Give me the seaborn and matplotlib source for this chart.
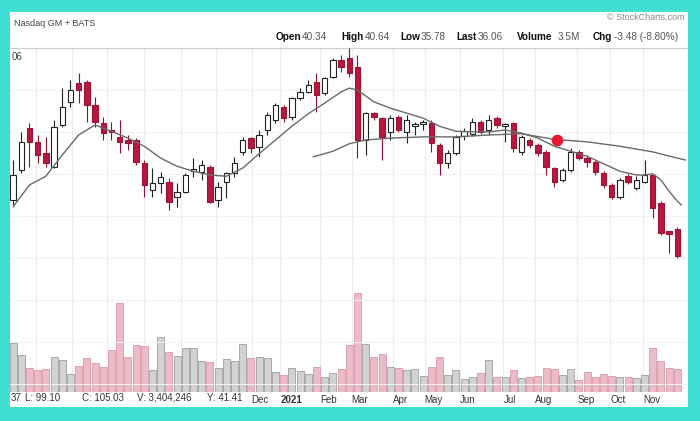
import numpy as np
import matplotlib
matplotlib.use("Agg")
import matplotlib.pyplot as plt
from matplotlib.patches import Rectangle
import seaborn as sns

# weekly candles (index 0 = first week shown)
opens = [45.0, 49.8, 56.5, 54.3, 52.5, 50.3, 57.0, 60.7, 63.7, 63.9,
         60.2, 57.3, 56.2, 55.1, 54.6, 54.6, 50.9, 46.6, 47.7, 47.9,
         45.5, 46.3, 49.6, 49.5, 50.3, 45.0, 47.9, 49.3, 52.7, 54.9,
         53.5, 56.2, 57.8, 59.9, 58.3, 61.3, 62.3, 63.9, 62.1, 64.7,
         67.4, 67.7, 66.3, 54.6, 58.9, 58.1, 55.9, 58.3, 55.9, 56.8,
         57.2, 57.3, 53.8, 50.9, 52.5, 55.2, 55.6, 57.5, 56.2, 58.1,
         56.8, 57.3, 52.7, 54.6, 53.8, 52.7, 50.1, 48.2, 49.8, 52.7,
         51.7, 51.1, 49.3, 47.4, 45.5, 48.8, 46.9, 47.9, 49.0, 44.5,
         40.0, 40.34]
highs = [51.4, 55.9, 57.3, 55.4, 55.1, 57.8, 62.9, 64.2, 65.3, 64.2,
         61.5, 58.3, 57.5, 57.8, 55.4, 54.9, 51.4, 50.1, 49.5, 48.5,
         47.7, 49.3, 51.7, 51.4, 50.6, 47.9, 49.5, 51.9, 55.1, 55.1,
         56.2, 59.1, 60.5, 60.2, 61.5, 62.9, 64.2, 65.3, 64.7, 67.7,
         68.2, 69.3, 68.2, 59.1, 59.1, 58.3, 58.6, 58.6, 58.6, 57.5,
         57.8, 57.8, 54.1, 53.0, 55.4, 56.5, 58.1, 57.8, 58.6, 58.4,
         57.3, 57.5, 55.4, 54.9, 54.1, 53.0, 50.3, 50.1, 53.3, 53.0,
         52.0, 51.4, 49.6, 47.7, 48.5, 49.2, 48.8, 51.4, 49.0, 44.8,
         40.1, 40.64]
lows = [44.2, 49.3, 50.3, 50.9, 50.3, 50.1, 56.7, 59.9, 60.5, 57.5,
        56.7, 54.6, 54.6, 52.5, 53.0, 50.6, 45.5, 45.5, 46.1, 43.4,
        43.9, 46.1, 48.7, 48.2, 44.5, 43.9, 45.3, 48.7, 52.2, 52.5,
        51.9, 55.4, 57.3, 57.5, 57.8, 61.0, 62.1, 59.1, 61.8, 64.5,
        65.5, 64.7, 51.7, 52.2, 57.8, 51.4, 54.6, 55.9, 54.1, 55.4,
        56.2, 52.7, 49.0, 50.1, 52.2, 54.6, 55.2, 55.6, 55.4, 56.5,
        54.3, 52.7, 52.2, 53.3, 52.0, 49.0, 47.1, 47.9, 49.5, 51.4,
        50.3, 49.0, 46.9, 45.2, 45.2, 47.6, 46.6, 47.7, 42.1, 39.4,
        36.5, 35.78]
closes = [49.0, 54.3, 54.3, 52.2, 50.9, 56.7, 59.9, 62.6, 62.6, 60.2,
          57.5, 55.7, 55.9, 54.3, 54.1, 51.1, 47.4, 47.7, 48.7, 44.7,
          46.3, 49.0, 50.0, 50.6, 44.7, 47.1, 49.3, 50.9, 54.6, 53.3,
          55.4, 58.6, 60.2, 58.1, 61.3, 62.3, 63.4, 61.8, 64.5, 67.4,
          66.3, 65.3, 54.6, 58.9, 58.3, 55.1, 58.1, 56.2, 57.8, 57.2,
          57.5, 54.1, 50.9, 52.5, 55.1, 56.0, 57.5, 55.9, 57.8, 57.0,
          57.2, 53.3, 55.1, 53.8, 52.5, 50.3, 47.9, 49.8, 52.7, 51.7,
          51.1, 49.5, 47.4, 45.5, 48.2, 47.9, 48.2, 49.0, 43.7, 39.7,
          39.54, 36.06]
# weekly volume, millions
volumes = [7.4, 5.6, 3.6, 3.3, 3.5, 5.3, 4.8, 2.7, 3.9, 5.1,
           4.4, 3.8, 6.3, 13.4, 5.3, 7.1, 6.9, 3.3, 8.3, 6.0,
           5.4, 6.6, 6.6, 4.7, 4.5, 3.6, 5.0, 4.7, 7.2, 5.1,
           5.3, 5.1, 3.0, 2.6, 3.6, 3.2, 2.7, 3.8, 2.3, 2.9,
           3.5, 7.1, 14.9, 7.2, 5.3, 5.7, 3.8, 3.6, 3.3, 3.5,
           2.4, 3.8, 5.3, 2.6, 3.3, 2.0, 2.3, 2.9, 4.8, 2.3,
           2.3, 3.3, 2.1, 2.3, 2.4, 3.6, 3.5, 2.6, 3.5, 1.8,
           3.0, 2.3, 2.7, 2.4, 2.3, 2.3, 2.1, 2.6, 6.6, 4.7,
           3.6, 3.5]

# moving averages (week index, price)
ma_short_x = [0, 2, 4, 6, 8, 10, 12, 14, 16, 18, 20, 22, 24, 26, 28, 30, 32, 34, 36, 38,
              40, 41, 42, 44, 46, 48, 50, 52, 54, 56, 58, 60, 62, 64, 66, 68, 70, 72, 74, 76,
              77, 78, 79, 80, 81, 81.5]
ma_short_y = [43.9, 47.4, 48.8, 52.2, 55.4, 57.0, 56.0, 54.9, 53.6, 51.7, 50.4, 49.6, 49.0, 48.8,
              50.1, 52.4, 54.6, 56.8, 58.8, 60.5, 62.3, 62.9, 62.6, 60.7, 59.7, 58.9, 58.1, 56.8,
              56.0, 55.9, 55.9, 56.2, 55.7, 54.9, 53.6, 52.8, 52.0, 50.8, 49.6, 49.0, 49.0, 49.2,
              48.2, 46.4, 44.8, 44.2]
ma_long_x = [36.6, 39, 41, 43, 46, 50, 54, 58, 62, 66, 70, 74, 78, 81, 82]
ma_long_y = [51.9, 52.8, 54.0, 54.6, 54.9, 55.1, 55.1, 55.4, 55.6, 54.7, 54.3, 53.6, 52.7, 51.7, 51.4]
signal_x, signal_y = 66.3, 54.6

month_labels = ["Dec", "2021", "Feb", "Mar", "Apr", "May", "Jun", "Jul", "Aug", "Sep", "Oct", "Nov"]
month_pos = [29.1, 32.6, 37.4, 41.3, 46.3, 50.2, 54.5, 59.8, 63.7, 68.8, 72.8, 76.8]
early_month_pos = [2.8, 7.2, 11.5, 16.0, 20.5, 24.8]
grid_prices = [15.6, 22.3, 29.0, 35.7, 42.4, 49.2, 55.9, 62.6]

readout = ["37", "L: 99.10", "C: 105.03", "V: 3,404,246", "Y: 41.41"]
readout_px = [11, 25, 82, 137, 207]
head_labels = ["Open", "High", "Low", "Last", "Volume", "Chg"]
head_values = ["40.34", "40.64", "35.78", "36.06", "3.5M", "-3.48 (-8.80%)"]
head_label_px = [276, 341, 400, 456, 517, 593]
head_value_px = [302, 365, 421, 478, 558, 614]

sns.set_theme(style="white")
plt.rcParams["font.family"] = ["Liberation Sans", "DejaVu Sans"]

W, H = 700, 421
fig = plt.figure(figsize=(7, 4.21), dpi=100, facecolor="white")
ax = fig.add_axes([10 / W, 1 - 392 / H, 678 / W, 344 / H])
axp = ax.twinx()

idx = np.arange(len(closes))
down = np.array(closes) < np.array(opens)

# volume overlay
vol_fill = np.where(down, "#ebbcc7", "#d2d2d2")
vol_edge = np.where(down, "#dca2b1", "#a9a9a9")
ax.bar(idx, volumes, width=0.86, color=vol_fill, edgecolor=vol_edge, linewidth=0.7, zorder=2)
ax.set_ylim(0, 51.6)
ax.set_xlim(-0.37, 82.3)
ax.set_yticks([])
ax.set_xticks(month_pos)
ax.set_xticklabels(month_labels, ha="left", fontsize=7, color="#333333")
ax.get_xticklabels()[1].set_fontweight("bold")
ax.set_xticks(early_month_pos, minor=True)
ax.tick_params(axis="x", which="both", length=0, pad=2)
ax.grid(axis="x", which="both", color="#ececec", linewidth=0.8)
ax.set_axisbelow(True)

# candles
o = np.array(opens)
c = np.array(closes)
body_lo = np.minimum(o, c)
body_h = np.maximum(np.abs(c - o), 0.12)
wick_col = np.where(down, "#8c1232", "#222222")
axp.vlines(idx, lows, highs, colors=wick_col, linewidth=0.8, zorder=3)
axp.bar(idx, body_h, bottom=body_lo, width=0.66,
        color=np.where(down, "#b8173f", "white"),
        edgecolor=np.where(down, "#9c1436", "#222222"), linewidth=0.8, zorder=4)

sns.lineplot(x=ma_short_x, y=ma_short_y, ax=axp, color="#6a6a6a", linewidth=1.0, zorder=5)
sns.lineplot(x=ma_long_x, y=ma_long_y, ax=axp, color="#6a6a6a", linewidth=1.0, zorder=5)
axp.scatter([signal_x], [signal_y], s=70, color="#e8192c", zorder=6, linewidths=0)

axp.set_ylim(14.28, 69.32)
axp.set_yticks(grid_prices)
axp.set_yticklabels([])
axp.tick_params(axis="y", length=0)
axp.grid(axis="y", color="#f1f1f1", linewidth=0.8)
axp.set_xlim(-0.37, 82.3)
for a in (ax, axp):
    for s in ["left", "right", "bottom"]:
        a.spines[s].set_visible(False)
    a.spines["top"].set_color("#cfcfcf")
    a.spines["top"].set_linewidth(0.8)

# texts
fig.text(14 / W, 1 - 23 / H, "Nasdaq GM + BATS", fontsize=6.5, color="#444444", va="center")
fig.text(685 / W, 1 - 18 / H, "\u00a9 StockCharts.com", fontsize=6.5, color="#888888", va="center", ha="right")
fig.text(12 / W, 1 - 57 / H, "06", fontsize=7, color="#444444", va="center")
for lab, v, lx, vx in zip(head_labels, head_values, head_label_px, head_value_px):
    fig.text(lx / W, 1 - 37 / H, lab, fontsize=7.2, fontweight="bold", color="#111111", va="center")
    fig.text(vx / W, 1 - 37 / H, v, fontsize=7.2, color="#555555", va="center")
for t, px in zip(readout, readout_px):
    fig.text(px / W, 1 - 398 / H, t, fontsize=7, color="#333333", va="center")

# turquoise frame
teal = "#3fe0d3"
for r in [(0, 0, 10, H), (688, 0, W - 688, H), (0, 0, W, 14), (0, H - 12, W, 12)]:
    x0, y0, w, h = r
    fig.add_artist(Rectangle((x0 / W, y0 / H), w / W, h / H, transform=fig.transFigure,
                             facecolor=teal, edgecolor="none", zorder=10))

fig.savefig("out.png", dpi=100, facecolor="white")
